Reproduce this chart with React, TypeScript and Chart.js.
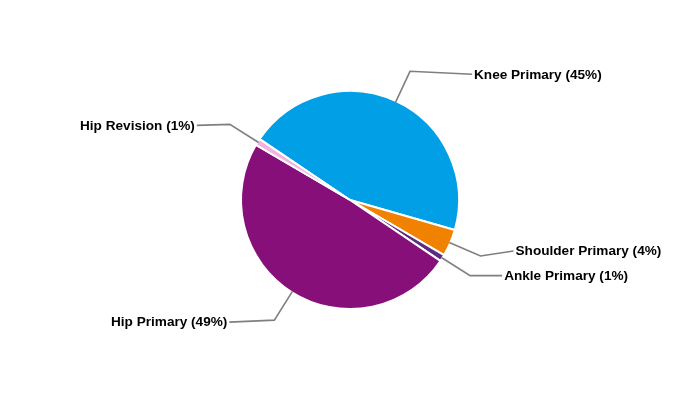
import React, { useEffect, useRef } from "react";
import { Chart, registerables } from "chart.js";

Chart.register(...registerables);

const categories = ["Knee Primary", "Shoulder Primary", "Ankle Primary", "Hip Primary", "Hip Revision"];
const shares = [45, 4, 1, 49, 1];
const sliceColors = ["#009FE6", "#F08200", "#5B2C83", "#860F79", "#F3B3DD"];

// label line end offsets relative to the elbow point (layout only)
const labelOffsets: [number, number][] = [
  [62, 3],
  [33, -5],
  [32, 0],
  [-45, 2],
  [-33, 1],
];

const leaderPlugin = {
  id: "leaders",
  afterDatasetsDraw(chart: any) {
    const meta = chart.getDatasetMeta(0);
    const ctx = chart.ctx as CanvasRenderingContext2D;
    const total = shares.reduce((a, b) => a + b, 0);
    ctx.save();
    meta.data.forEach((arc: any, i: number) => {
      const { x, y, startAngle, endAngle, outerRadius } = arc.getProps(
        ["x", "y", "startAngle", "endAngle", "outerRadius"],
        true
      );
      const mid = (startAngle + endAngle) / 2;
      const r0 = outerRadius - 1;
      const r1 = outerRadius + 33;
      const p0x = x + Math.cos(mid) * r0;
      const p0y = y + Math.sin(mid) * r0;
      const p1x = x + Math.cos(mid) * r1;
      const p1y = y + Math.sin(mid) * r1;
      const [dx, dy] = labelOffsets[i];
      const p2x = p1x + dx;
      const p2y = p1y + dy;
      ctx.beginPath();
      ctx.moveTo(p0x, p0y);
      ctx.lineTo(p1x, p1y);
      ctx.lineTo(p2x, p2y);
      ctx.strokeStyle = "#7F7F7F";
      ctx.lineWidth = 1.6;
      ctx.stroke();
      const pct = Math.round((shares[i] / total) * 100);
      const text = `${categories[i]} (${pct}%)`;
      ctx.font = "bold 13.6px 'Liberation Sans', Arial, sans-serif";
      ctx.fillStyle = "#000000";
      ctx.textBaseline = "middle";
      if (dx >= 0) {
        ctx.textAlign = "left";
        ctx.fillText(text, p2x + 2, p2y + 0.5);
      } else {
        ctx.textAlign = "right";
        ctx.fillText(text, p2x - 2, p2y + 0.5);
      }
    });
    ctx.restore();
  },
};

export default function App() {
  const ref = useRef<HTMLCanvasElement | null>(null);
  useEffect(() => {
    document.body.style.margin = "0";
    const chart = new Chart(ref.current as HTMLCanvasElement, {
      type: "pie",
      data: {
        labels: categories,
        datasets: [
          {
            data: shares,
            backgroundColor: sliceColors,
            borderColor: "#FFFFFF",
            borderWidth: 2,
            radius: 109,
          },
        ],
      },
      options: {
        responsive: false,
        animation: false,
        rotation: -56,
        layout: { padding: 0 },
        plugins: {
          legend: { display: false },
          tooltip: { enabled: false },
        },
      },
      plugins: [leaderPlugin],
    });
    return () => chart.destroy();
  }, []);
  return (
    <div style={{ width: 700, height: 400, background: "#FFFFFF" }}>
      <canvas ref={ref} width={700} height={400} style={{ display: "block" }} />
    </div>
  );
}
